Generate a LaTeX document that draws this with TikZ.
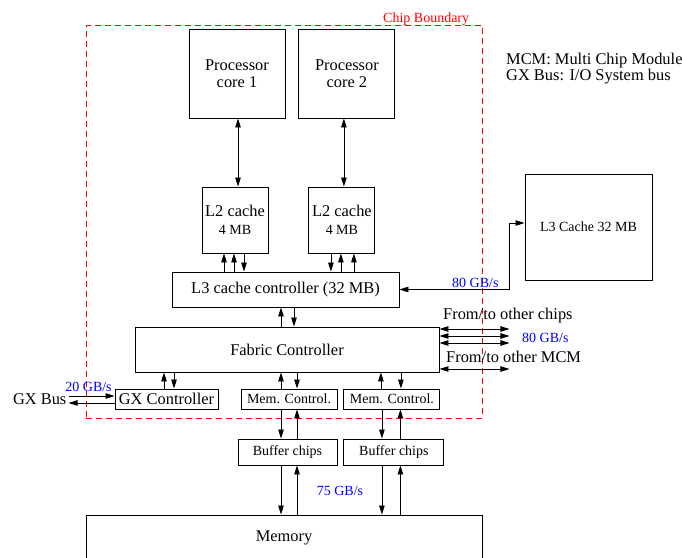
\documentclass[tikz,border=0pt]{standalone}
\usepackage{fontspec}
\setmainfont{Liberation Serif}
\usetikzlibrary{positioning, arrows.meta, calc}
\newcommand{\midsize}{\fontsize{14}{16}\selectfont}

\begin{document}
\begin{tikzpicture}[
        x=1pt, y=-1pt,
        >={Triangle[length=9pt,width=5.5pt]},
        bigtext/.style={font=\fontsize{16.4}{17.5}\selectfont},
        midtext/.style={font=\midsize},
        block/.style={
            rectangle,
            draw,
            line width=0.9pt,
            inner sep=0pt,
            text centered,
            align=center,
            bigtext
        },
        line/.style={draw, line width=0.8pt},
        txt/.style={bigtext, inner sep=0pt},
        rate/.style={text=blue, midtext, inner sep=1pt},
        boundary/.style={draw=red, line width=0.9pt, dash pattern=on 6pt off 4pt}
    ]
        \useasboundingbox (0,0) rectangle (682,557);

        % Chip boundary
        \node [boundary, minimum width=396pt, minimum height=392.5pt, inner sep=0pt] (chip) at (284,221.75) {};
        \node [anchor=base west, inner sep=0pt, text=red, midtext] (chiplabel) at (383,22.5) {Chip Boundary};

        % Nodes
        \node [block, minimum width=96pt, minimum height=89pt] (core1) at (237,73.5) {Processor\\core 1};
        \node [block, minimum width=96pt, minimum height=89pt, right=13pt of core1] (core2) {Processor\\core 2};
        \node [block, minimum width=66pt, minimum height=66pt] (l2a) at (235,220) {L2 cache\\{\midsize 4 MB}};
        \node [block, minimum width=66pt, minimum height=66pt, right=40pt of l2a] (l2b) {L2 cache\\{\midsize 4 MB}};
        \node [block, minimum width=227pt, minimum height=35pt] (l3ctrl) at (285.5,289.5) {L3 cache controller (32 MB)};
        \node [block, midtext, minimum width=127pt, minimum height=106pt] (l3) at (588.5,227) {L3 Cache 32 MB};
        \node [block, minimum width=304pt, minimum height=45pt] (fabric) at (287,349.5) {Fabric Controller};
        \node [block, minimum width=103pt, minimum height=20pt] (gx) at (166.5,399) {GX Controller};
        \node [block, midtext, minimum width=96pt, minimum height=20pt] (mc1) at (289,399) {Mem. Control.};
        \node [block, midtext, minimum width=96pt, minimum height=20pt, right=6pt of mc1] (mc2) {Mem. Control.};
        \node [block, midtext, minimum width=99pt, minimum height=26pt] (buf1) at (287.5,452) {Buffer chips};
        \node [block, midtext, minimum width=100pt, minimum height=26pt, right=6pt of buf1] (buf2) {Buffer chips};
        \node [block, minimum width=396pt, minimum height=45pt] (memory) at (284,537.5) {Memory};
        \node [txt, inner sep=2pt, left=46pt of gx] (gxbus) {GX Bus};

        % Labels
        \node [txt, anchor=base west] (chipslabel) at (443,319.5) {From/to other chips};
        \node [rate, anchor=base west, inner sep=0pt] (fabricrate) at (522,342.5) {80 GB/s};
        \node [txt, anchor=base west] (mcmlabel) at (446,362.5) {From/to other MCM};
        \node [rate] (memrate) at (340,491) {75 GB/s};
        \node [txt, anchor=base west] (legend1) at (506,64.5) {MCM: Multi Chip Module};
        \node [txt, anchor=base west] (legend2) at (506,80) {GX Bus: I/O System bus};

        % Cores to L2 caches
        \path [line, <->] ($(core1.south)+(1,0)$) -- ($(core1.south |- l2a.north)+(1,0)$);
        \path [line, <->] ($(core2.south)+(-3,0)$) -- ($(core2.south |- l2b.north)+(-3,0)$);

        % L2 caches to L3 cache controller
        \path [line, <-] ($(l2a.south)+(-11,0)$) -- ($(l2a.south |- l3ctrl.north)+(-11,0)$);
        \path [line, <-] ($(l2a.south)+(-1,0)$) -- ($(l2a.south |- l3ctrl.north)+(-1,0)$);
        \path [line, ->] ($(l2a.south)+(9,0)$) -- ($(l2a.south |- l3ctrl.north)+(9,0)$);
        \path [line, ->] ($(l2b.south)+(-11,0)$) -- ($(l2b.south |- l3ctrl.north)+(-11,0)$);
        \path [line, <-] ($(l2b.south)+(-1,0)$) -- ($(l2b.south |- l3ctrl.north)+(-1,0)$);
        \path [line, <-] ($(l2b.south)+(12,0)$) -- ($(l2b.south |- l3ctrl.north)+(12,0)$);

        % Off-chip L3 cache
        \path [line, <->] (l3ctrl.east) -- node[rate, above, pos=0.69] {80 GB/s} ++(110,0) |- ([yshift=4pt]l3.west);

        % L3 cache controller to fabric
        \path [line, <-] ($(l3ctrl.south)+(-4.5,0)$) -- ($(l3ctrl.south |- fabric.north)+(-4.5,0)$);
        \path [line, ->] ($(l3ctrl.south)+(8.5,0)$) -- ($(l3ctrl.south |- fabric.north)+(8.5,0)$);

        % Fabric to other chips and MCM
        \path [line, <->] ($(fabric.east)+(0,-20.5)$) -- ++(70,0);
        \path [line, <->] ($(fabric.east)+(0,-13.5)$) -- ++(70,0);
        \path [line, <->] ($(fabric.east)+(0,-6.5)$) -- ++(70,0);
        \path [line, <->] ($(fabric.east)+(0,19.5)$) -- ++(70,0);

        % Fabric to GX and memory controllers
        \path [line, ->] ($(gx.north)+(-2.5,0)$) -- ($(gx.north |- fabric.south)+(-2.5,0)$);
        \path [line, <-] ($(gx.north)+(7.5,0)$) -- ($(gx.north |- fabric.south)+(7.5,0)$);
        \path [line, ->] ($(mc1.north)+(-8,0)$) -- ($(mc1.north |- fabric.south)+(-8,0)$);
        \path [line, <-] ($(mc1.north)+(8,0)$) -- ($(mc1.north |- fabric.south)+(8,0)$);
        \path [line, ->] ($(mc2.north)+(-11,0)$) -- ($(mc2.north |- fabric.south)+(-11,0)$);
        \path [line, <-] ($(mc2.north)+(9,0)$) -- ($(mc2.north |- fabric.south)+(9,0)$);

        % GX bus
        \path [line, ->] ($(gxbus.east)+(0,-3)$) -- node[rate, above, yshift=3pt, xshift=-3pt] {20 GB/s} ($(gx.west)+(0,-3)$);
        \path [line, <-] ($(gxbus.east)+(0,4)$) -- ($(gx.west)+(0,4)$);

        % Memory controllers to buffers to memory
        \path [line, ->] ($(mc1.south)+(-8,0)$) -- ($(mc1.south |- buf1.north)+(-8,0)$);
        \path [line, <-] ($(mc1.south)+(8,0)$) -- ($(mc1.south |- buf1.north)+(8,0)$);
        \path [line, ->] ($(mc2.south)+(-10,0)$) -- ($(mc2.south |- buf2.north)+(-10,0)$);
        \path [line, <-] ($(mc2.south)+(8.5,0)$) -- ($(mc2.south |- buf2.north)+(8.5,0)$);
        \path [line, ->] ($(mc1.south |- buf1.south)+(-8,0)$) -- ($(mc1.south |- memory.north)+(-8,0)$);
        \path [line, <-] ($(mc1.south |- buf1.south)+(8,0)$) -- ($(mc1.south |- memory.north)+(8,0)$);
        \path [line, ->] ($(mc2.south |- buf2.south)+(-10,0)$) -- ($(mc2.south |- memory.north)+(-10,0)$);
        \path [line, <-] ($(mc2.south |- buf2.south)+(8.5,0)$) -- ($(mc2.south |- memory.north)+(8.5,0)$);
    \end{tikzpicture}
\end{document}
